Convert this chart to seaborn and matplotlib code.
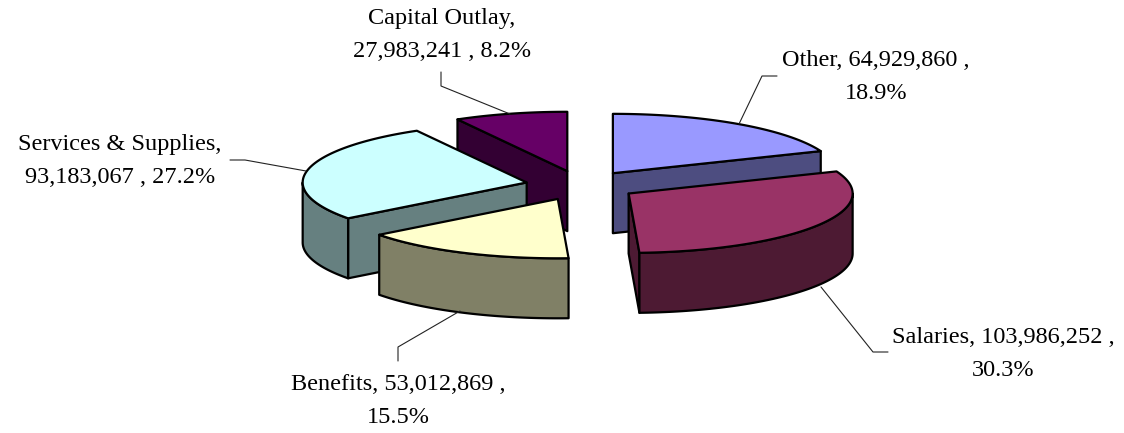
import numpy as np
import matplotlib
matplotlib.use("Agg")
import matplotlib.pyplot as plt
import seaborn as sns

# slices in the order they go round, clockwise from 12 o'clock
categories = ["Other", "Salaries", "Benefits", "Services & Supplies", "Capital Outlay"]
values = [64929860, 103986252, 53012869, 93183067, 27983241]
top_colors = ["#9999FF", "#993366", "#FFFFCC", "#CCFFFF", "#660066"]
side_colors = ["#4D4D80", "#4D1A33", "#808066", "#668080", "#330033"]

# where each label breaks its line
label_templates = [
    "{name}, {val} ,\n{pct}",
    "{name}, {val} ,\n{pct}",
    "{name}, {val} ,\n{pct}",
    "{name},\n{val} , {pct}",
    "{name},\n{val} , {pct}",
]
label_pos = [(876, 77), (1003, 354), (398, 401), (120, 161), (442, 35)]
leaders = [
    [(739, 124), (762, 76), (777, 76)],
    [(821, 287), (873, 352), (888, 352)],
    [(460, 311), (398, 347), (398, 361)],
    [(306, 171), (245, 160), (230, 160)],
    [(510, 114), (441, 86), (441, 72)],
]

# pie geometry in pixels
cx, cy = 581.5, 185.5
rx, tilt = 224, 0.265
depth = 60
explode = 56

sns.set_theme(style="white")
plt.rcParams["font.family"] = ["Liberation Serif", "DejaVu Serif"]

fig = plt.figure(figsize=(11.24, 4.33), dpi=100)
ax = fig.add_axes([0, 0, 1, 1])
ax.set_xlim(0, 1124)
ax.set_ylim(433, 0)
ax.axis("off")

vals = np.array(values, dtype=float)
edges = np.concatenate([[0], np.cumsum(vals) / vals.sum() * 2 * np.pi])


def point(t, ox, oy, r=rx):
    return ox + r * np.sin(t), oy - r * tilt * np.cos(t)


def face(xs, ys, color, z):
    ax.fill(xs, ys, facecolor=color, edgecolor="black", lw=1.6, joinstyle="round", zorder=z)


offsets = []
for i in range(len(vals)):
    mid = (edges[i] + edges[i + 1]) / 2
    offsets.append(point(mid, cx, cy, explode))

# back slices first, so nearer ones paint over them
order = np.argsort([o[1] for o in offsets])
for z, i in enumerate(order):
    t0, t1 = edges[i], edges[i + 1]
    ox, oy = offsets[i]
    z = z * 3 + 1

    # flat cut faces that look towards the viewer
    for t, show in ((t0, np.sin(t0) < -1e-6), (t1, np.sin(t1) > 1e-6)):
        if show:
            px, py = point(t, ox, oy)
            face([ox, px, px, ox], [oy, py, py + depth, oy + depth], side_colors[i], z)

    # outer wall, only the part of the rim at the front
    a, b = max(t0, np.pi / 2), min(t1, 3 * np.pi / 2)
    if b > a:
        ts = np.linspace(a, b, 80)
        px, py = point(ts, ox, oy)
        face(np.r_[px, px[::-1]], np.r_[py, py[::-1] + depth], side_colors[i], z + 1)

    # top
    ts = np.linspace(t0, t1, 120)
    px, py = point(ts, ox, oy)
    face(np.r_[ox, px], np.r_[oy, py], top_colors[i], z + 2)

for i, name in enumerate(categories):
    txt = label_templates[i].format(
        name=name, val=f"{values[i]:,}", pct=f"{values[i] / vals.sum():.1%}"
    )
    ax.text(label_pos[i][0], label_pos[i][1], txt, ha="center", va="center",
            fontsize=17.5, color="black", linespacing=1.79, zorder=30)
    lx, ly = zip(*leaders[i])
    ax.plot(lx, ly, color="#222222", lw=0.8, zorder=29)

fig.savefig("out.png", dpi=100)
